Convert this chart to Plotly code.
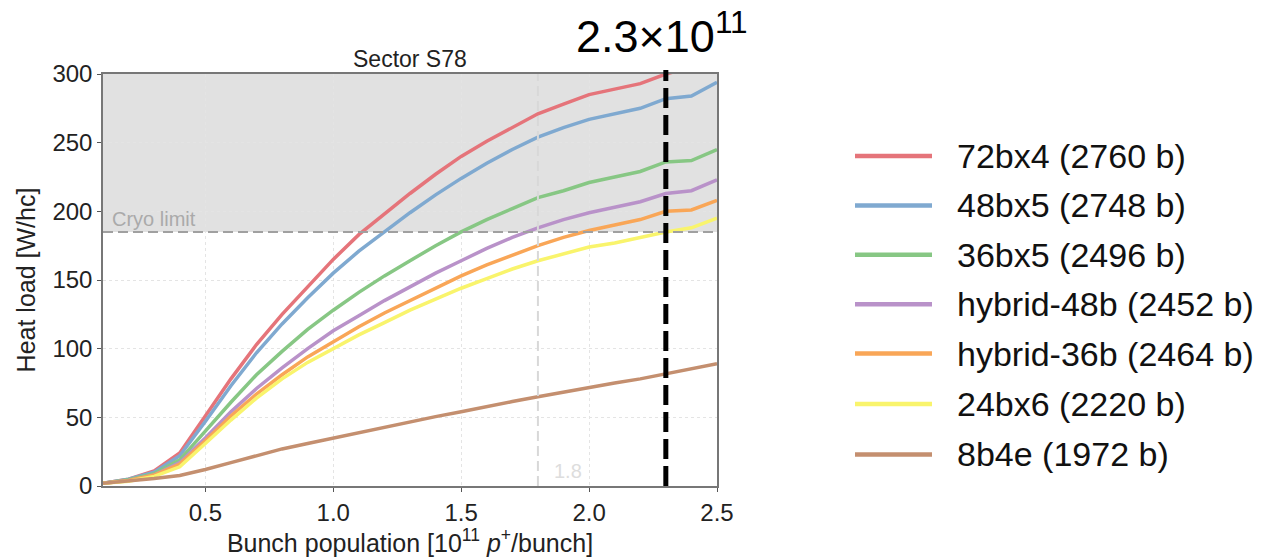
import plotly.graph_objects as go

# Bunch population [1e11 p/bunch]
bunch_population = [0.1, 0.2, 0.3, 0.4, 0.5, 0.6, 0.7, 0.8, 0.9, 1.0, 1.1, 1.2, 1.3,
                    1.4, 1.5, 1.6, 1.7, 1.8, 1.9, 2.0, 2.1, 2.2, 2.3, 2.4, 2.5]

# Heat load per half-cell [W/hc] for each filling scheme
load_72bx4 = [2, 5, 11, 24, 51, 78, 103, 125, 145, 165, 183, 198, 213,
              227, 240, 251, 261, 271, 278, 285, 289, 293, 300, 305, 312]
load_48bx5 = [2, 5, 10, 22, 47, 73, 97, 118, 137, 155, 171, 185, 199,
              212, 224, 235, 245, 254, 261, 267, 271, 275, 282, 284, 294]
load_36bx5 = [2, 4.5, 9, 19, 40, 61, 81, 98, 114, 128, 141, 153, 164,
              175, 185, 194, 202, 210, 215, 221, 225, 229, 236, 237, 245]
load_hybrid48 = [2, 4, 8, 17, 35, 54, 71, 86, 100, 113, 124, 135, 145,
                 155, 164, 173, 181, 188, 194, 199, 203, 207, 213, 215, 223]
load_hybrid36 = [2, 4, 8, 16, 33, 51, 67, 81, 94, 105, 116, 126, 135,
                 144, 153, 161, 168, 175, 181, 186, 190, 194, 200, 201, 208]
load_24bx6 = [2, 3.5, 7, 14, 31, 48, 64, 78, 90, 100, 110, 119, 128,
              136, 144, 151, 158, 164, 169, 174, 177, 181, 185, 188, 195]
load_8b4e = [2, 3.5, 5.5, 7.7, 12, 17, 22, 27, 31, 35, 39, 43, 47,
             50.5, 54, 58, 61.5, 65, 68.5, 72, 75, 78, 81.5, 85, 89]

scheme_names = ["72bx4 (2760 b)", "48bx5 (2748 b)", "36bx5 (2496 b)",
                "hybrid-48b (2452 b)", "hybrid-36b (2464 b)", "24bx6 (2220 b)",
                "8b4e (1972 b)"]
scheme_loads = [load_72bx4, load_48bx5, load_36bx5, load_hybrid48,
                load_hybrid36, load_24bx6, load_8b4e]
scheme_colors = ["#e5747a", "#7fa9d0", "#87c784", "#b992c9",
                 "#f9a657", "#f9f46c", "#c48f6f"]

cryo_limit = 185
nominal_intensity = 1.8
hl_lhc_intensity = 2.3
x_ticks = [0.5, 1.0, 1.5, 2.0, 2.5]
y_ticks = [0, 50, 100, 150, 200, 250, 300]

W, H = 1268, 557
L, R, T, B = 103, 717, 74, 491
font = "Liberation Sans, Arial, sans-serif"


def px_x(p):
    return (p - L) / (R - L)


def px_y(p):
    return (B - p) / (B - T)


fig = go.Figure()
for name, load, color in zip(scheme_names, scheme_loads, scheme_colors):
    fig.add_trace(go.Scatter(x=bunch_population, y=load, mode="lines", name=name,
                             line=dict(color=color, width=3.5), showlegend=False))

shapes = [
    # region above the cryogenic limit
    dict(type="rect", xref="paper", yref="y", x0=0, x1=1, y0=cryo_limit, y1=300,
         fillcolor="#e1e1e1", line_width=0, layer="below"),
    dict(type="line", xref="paper", yref="y", x0=0, x1=1, y0=cryo_limit, y1=cryo_limit,
         line=dict(color="#a0a0a0", width=2, dash="10px,5px")),
    dict(type="line", xref="x", yref="paper", x0=nominal_intensity, x1=nominal_intensity,
         y0=0, y1=1, line=dict(color="#d8d8d8", width=2, dash="10px,5px")),
    dict(type="line", xref="x", yref="paper", x0=hl_lhc_intensity, x1=hl_lhc_intensity,
         y0=0, y1=1.01, line=dict(color="black", width=5, dash="20px,7px")),
]

annotations = [
    dict(text="Sector S78", xref="paper", yref="paper", x=0.5, y=1, yanchor="bottom",
         yshift=0, showarrow=False, font=dict(size=23, color="#222", family=font)),
    dict(text="Cryo limit", xref="paper", yref="y", x=0.012, y=cryo_limit,
         xanchor="left", yanchor="bottom", yshift=0, showarrow=False,
         font=dict(size=20, color="#aaaaaa", family=font)),
    dict(text=str(nominal_intensity), xref="x", yref="paper", x=nominal_intensity, y=0.005,
         xanchor="left", yanchor="bottom", xshift=14, showarrow=False,
         font=dict(size=20, color="#dddddd", family=font)),
    dict(text="2.3×10<sup>11</sup>", xref="x", yref="paper", x=hl_lhc_intensity,
         y=px_y(33), xanchor="center", yanchor="middle", xshift=-4, showarrow=False,
         font=dict(size=45, color="black", family=font)),
]

# legend block on the right
leg_y = [157, 207, 257, 307, 357, 408, 459]
for name, color, yy in zip(scheme_names, scheme_colors, leg_y):
    shapes.append(dict(type="line", xref="paper", yref="paper",
                       x0=px_x(855), x1=px_x(932), y0=px_y(yy), y1=px_y(yy),
                       line=dict(color=color, width=4.5)))
    annotations.append(dict(text=name, xref="paper", yref="paper", x=px_x(955),
                            y=px_y(yy), xanchor="left", yanchor="middle",
                            showarrow=False,
                            font=dict(size=34, color="#111", family=font)))

axis_common = dict(showline=True, linecolor="#777777", linewidth=1.5, mirror=True,
                   ticks="outside", ticklen=4, tickcolor="#555", showgrid=True,
                   gridcolor="#e4e4e4", griddash="dot", gridwidth=1, zeroline=False,
                   tickfont=dict(size=24, color="#222", family=font))

fig.update_layout(
    width=W, height=H,
    margin=dict(l=L, r=W - R, t=T, b=H - B),
    paper_bgcolor="white", plot_bgcolor="white",
    shapes=shapes, annotations=annotations,
    xaxis=dict(range=[0.1, 2.5], tickvals=x_ticks, tickformat=".1f",
               title=dict(text="Bunch population [10<sup>11</sup> <i>p</i><sup>+</sup>/bunch]",
                          font=dict(size=25, color="#222", family=font), standoff=2),
               **axis_common),
    yaxis=dict(range=[0, 300], tickvals=y_ticks,
               title=dict(text="Heat load [W/hc]",
                          font=dict(size=25, color="#222", family=font), standoff=10),
               **axis_common),
)

fig.write_html("out.html")
